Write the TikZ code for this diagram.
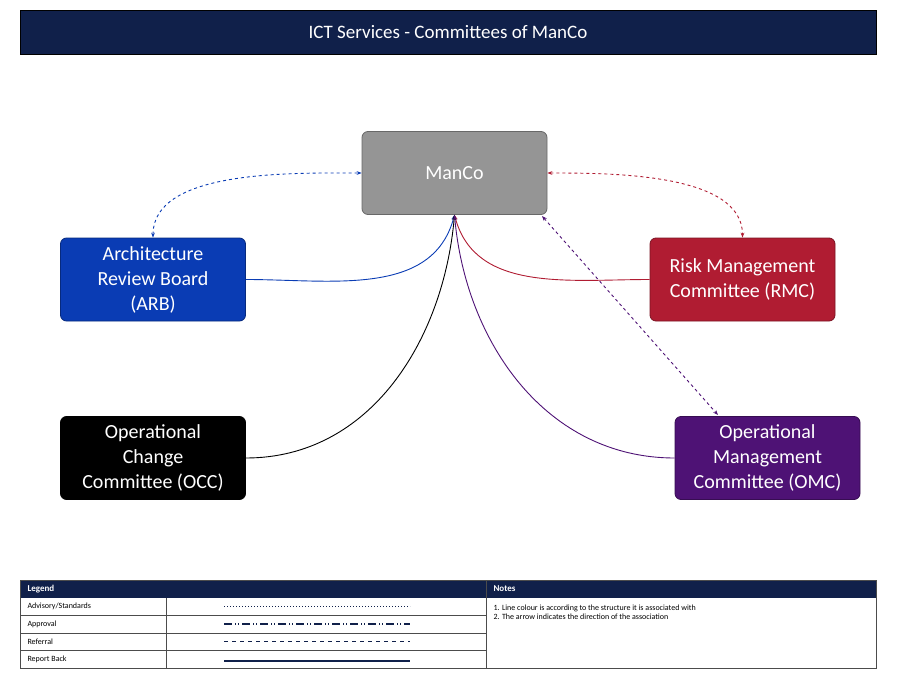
\documentclass[tikz,border=0pt]{standalone}
\usepackage{fontspec}
\setmainfont{Carlito}
\usetikzlibrary{arrows.meta}
\definecolor{navy}{HTML}{10204A}
\definecolor{arbblue}{HTML}{0A3CB4}
\definecolor{rmcred}{HTML}{B01C32}
\definecolor{omcpurple}{HTML}{4E1275}
\definecolor{mancogray}{HTML}{959595}
\tikzset{
box/.style={draw=#1!70!black, fill=#1, rounded corners=6pt, minimum width=185pt, minimum height=83pt, text=white, align=center, font=\fontsize{20}{25}\selectfont, line width=0.8pt},
report/.style={line width=0.9pt, -{Stealth[length=5pt]}},
referral/.style={line width=0.9pt, dashed, {Stealth[length=5pt]}-{Stealth[length=5pt]}},
cell/.style={font=\fontsize{8}{9}\selectfont, anchor=west}
}
\begin{document}
\begin{tikzpicture}[x=1pt,y=-1pt]
\useasboundingbox (0,0) rectangle (900,677);
% title
\node[fill=navy, draw=black, minimum width=856pt, minimum height=44pt, text=white, font=\fontsize{19}{22}\selectfont] (title) at (448,32) {ICT Services - Committees of ManCo};
% committees
\node[box=mancogray] (manco) at (454.5,173) {ManCo};
\node[box=arbblue] (arb) at (153,279.5) {Architecture\\Review Board\\(ARB)};
\node[box=rmcred] (rmc) at (742.5,279.5) {Risk Management\\Committee (RMC)};
\node[box=black] (occ) at (153,458) {Operational\\Change\\Committee (OCC)};
\node[box=omcpurple] (omc) at (767.5,458) {Operational\\Management\\Committee (OMC)};
% report back
\draw[report, arbblue] (arb.east) to[out=0, in=-105] (manco.south);
\draw[report, rmcred] (rmc.west) to[out=180, in=-75] (manco.south);
\draw[report, black] (occ.east) to[out=0, in=-95] (manco.south);
\draw[report, omcpurple] (omc.west) to[out=180, in=-85] (manco.south);
% referral
\draw[referral, arbblue] (arb.north) to[out=-90+180, in=180, looseness=0.8] (manco.west);
\draw[referral, rmcred] (manco.east) to[out=0, in=90, looseness=0.8] (rmc.north);
\coordinate (mancose) at (542,216);
\coordinate (omcnw) at (718,415);
\draw[referral, omcpurple] (mancose) -- (omcnw);
% legend
\fill[navy] (20,580) rectangle (876,598);
\draw[black!70, line width=0.6pt] (20,580) rectangle (876,668) (486,580) -- (486,668) (166,598) -- (166,668);
\foreach \y in {615,633,650}
  \draw[black!70, line width=0.6pt] (20,\y) -- (486,\y);
\node[cell, text=white, font=\fontsize{9}{10}\selectfont\bfseries] (lhead) at (24,589) {Legend};
\node[cell, text=white, font=\fontsize{9}{10}\selectfont\bfseries] (nhead) at (490,589) {Notes};
\node[cell] (adv) at (24,606.5) {Advisory/Standards};
\node[cell] (app) at (24,624) {Approval};
\node[cell] (ref) at (24,641.5) {Referral};
\node[cell] (rep) at (24,659) {Report Back};
\coordinate (advl) at (224,606.5); \coordinate (advr) at (410,606.5);
\coordinate (appl) at (224,624); \coordinate (appr) at (410,624);
\coordinate (refl) at (224,641.5); \coordinate (refr) at (410,641.5);
\coordinate (repl) at (224,661); \coordinate (repr) at (410,661);
\draw[navy, line width=1pt, dotted] (advl) -- (advr);
\draw[navy, line width=1.3pt, dash pattern=on 8pt off 3pt on 1pt off 2pt on 1pt off 3pt] (appl) -- (appr);
\draw[navy, line width=1.3pt, dash pattern=on 4pt off 4pt] (refl) -- (refr);
\draw[navy, line width=1.5pt] (repl) -- (repr);
\node[cell, align=left] (notes) at (490,612.5) {1. Line colour is according to the structure it is associated with\\2. The arrow indicates the direction of the association};
\end{tikzpicture}
\end{document}
